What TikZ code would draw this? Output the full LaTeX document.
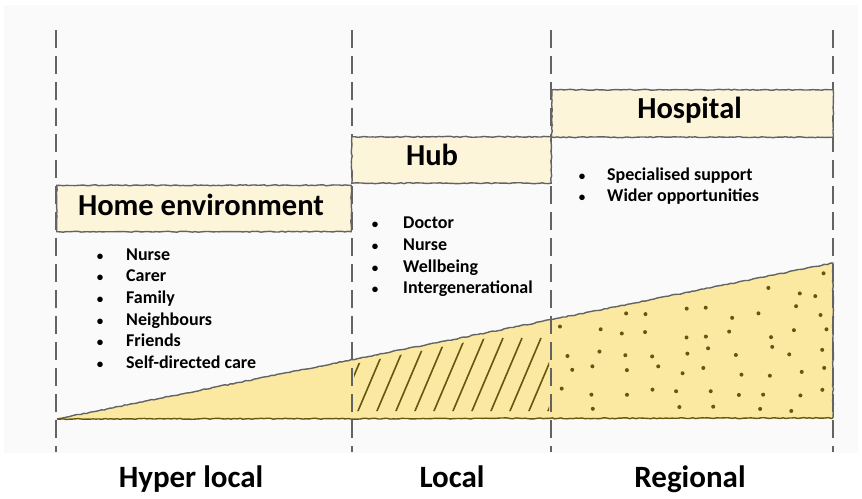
\documentclass[tikz,border=0pt]{standalone}
\usepackage{fontspec}
\setmainfont{Carlito}
\usetikzlibrary{decorations.pathmorphing}

\definecolor{sketchgrey}{HTML}{636363}
\definecolor{boxcream}{HTML}{FDF5DA}
\definecolor{wedgeyellow}{HTML}{FBE9A2}
\definecolor{penolive}{HTML}{66560F}
\definecolor{paper}{HTML}{FAFAFA}

\tikzset{
	rough/.style={decorate, decoration={random steps, segment length=3pt, amplitude=0.5pt}},
	divider/.style={sketchgrey, line width=1.8pt, dash pattern=on 18pt off 8pt},
	stagebox/.style={fill=boxcream, inner sep=0pt},
	stagetitle/.style={font=\fontsize{30.5}{33}\selectfont\bfseries, anchor=base},
	bullet/.style={font=\fontsize{13}{15}\selectfont\bfseries, anchor=base, inner sep=0pt},
	itemtext/.style={font=\fontsize{18}{20}\selectfont\bfseries, anchor=base west, inner sep=0pt},
	scaletitle/.style={font=\fontsize{31}{34}\selectfont\bfseries, anchor=base}
}

\begin{document}
\begin{tikzpicture}[x=1pt, y=-1pt]
				\useasboundingbox (0,0) rectangle (862,498);
				\fill[paper] (4,5) rectangle (858,453);
				% wedge corners
				\coordinate (tip) at (57,419);
				\coordinate (rtop) at (833,263);
				\coordinate (rbase) at (833,418);
				% wedge fill
				\fill[wedgeyellow] (tip) -- (rtop) -- (rbase) -- cycle;
				% hatching in the local band
				\begin{scope}
					\clip (354,364) -- (549,326) -- (549,411) -- (354,411) -- cycle;
					\foreach \k in {0,...,11}
					{
						\draw[penolive, line width=1.6pt] (336+19*\k,418) -- ++(34,-80);
					}
				\end{scope}
				% dots in the regional band
				\pgfmathsetseed{5}
				\foreach \i in {0,...,9}
				{
					\foreach \j in {0,...,7}
					{
						\pgfmathsetmacro\dx{566+28.5*\i+8*rand}
						\pgfmathsetmacro\dy{272+20*\j+6*rand}
						\pgfmathsetmacro\dtop{418-(\dx-57)/776*155+8}
						\pgfmathtruncatemacro\inside{(\dy>\dtop)&&(\dy<412)&&(\dx<827)}
						\ifnum\inside=1
							\fill[penolive] (\dx,\dy) circle (2pt);
						\fi
					}
				}
				% column dividers
				\foreach \x [count=\i] in {56,352,551,833}
				{
					\coordinate (top\i) at (\x,30);
					\coordinate (bot\i) at (\x,452);
					\draw[divider] (top\i) -- (bot\i);
				}
				% wedge outline
				\draw[sketchgrey, line width=1.4pt, rough] (tip) -- (rtop) -- (rbase);
				\draw[penolive, line width=1.4pt, rough] (tip) -- (rbase);
				% stage boxes
				\node[stagebox, minimum width=294pt, minimum height=46pt] (homebox) at (204,208.5) {};
				\node[stagebox, minimum width=199pt, minimum height=46pt] (hubbox) at (451.5,160) {};
				\node[stagebox, minimum width=281pt, minimum height=47pt] (hospitalbox) at (692.5,113.5) {};
				\draw[sketchgrey, line width=1.4pt, rough] (homebox.south west) rectangle (homebox.north east);
				\draw[sketchgrey, line width=1.4pt, rough] (hubbox.south west) rectangle (hubbox.north east);
				\draw[sketchgrey, line width=1.4pt, rough] (hospitalbox.south west) rectangle (hospitalbox.north east);
				\node[stagetitle] (hometitle) at (201,215) {Home environment};
				\node[stagetitle] (hubtitle) at (432,165) {Hub};
				\node[stagetitle] (hospitaltitle) at (689.5,118) {Hospital};
				% bullet lists
				\foreach \t [count=\i] in {Nurse,Carer,Family,Neighbours,Friends,Self-directed care}
				{
					\node[bullet] (homedot\i) at (100,238.3+21.7*\i) {•};
					\node[itemtext] (homeitem\i) at (126,238.3+21.7*\i) {\t};
				}
				\foreach \t [count=\i] in {Doctor,Nurse,Wellbeing,Intergenerational}
				{
					\node[bullet] (hubdot\i) at (375,207+21.7*\i) {•};
					\node[itemtext] (hubitem\i) at (403,207+21.7*\i) {\t};
				}
				\foreach \t [count=\i] in {Specialised support,Wider opportunities}
				{
					\node[bullet] (hospitaldot\i) at (582,158.5+21.7*\i) {•};
					\node[itemtext] (hospitalitem\i) at (607,158.5+21.7*\i) {\t};
				}
				% scale labels
				\node[scaletitle] (hyperlocal) at (191,487) {Hyper local};
				\node[scaletitle] (local) at (452,487) {Local};
				\node[scaletitle] (regional) at (690,487) {Regional};
			\end{tikzpicture}
\end{document}
